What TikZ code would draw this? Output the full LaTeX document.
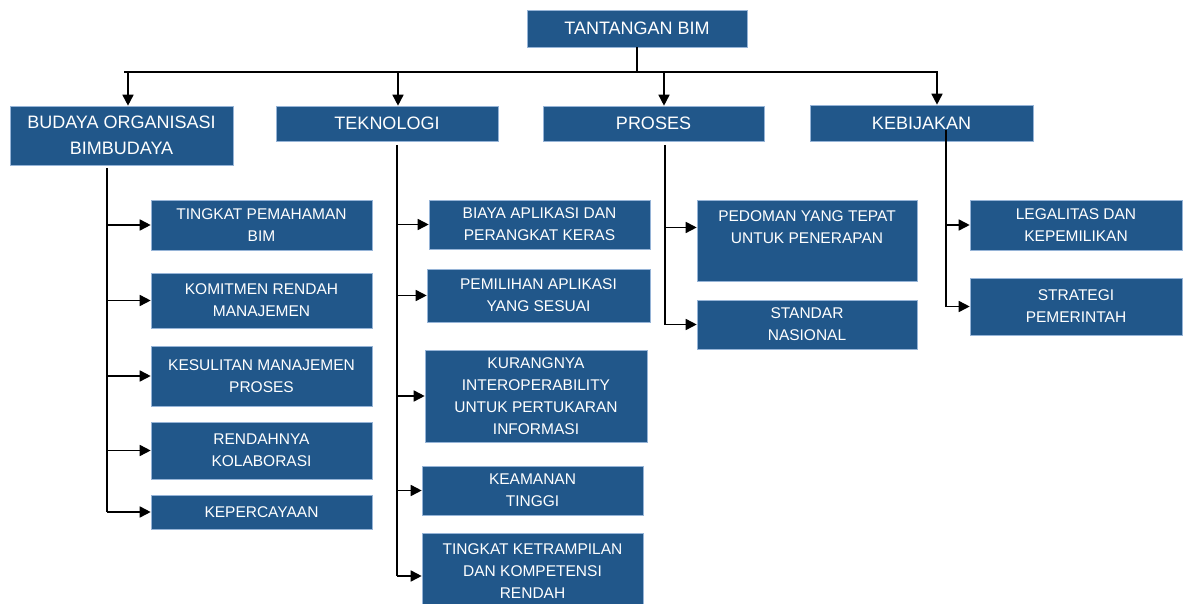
\documentclass[tikz,border=0pt]{standalone}
\usepackage{fontspec}
\setmainfont{Liberation Sans}
\usetikzlibrary{arrows.meta}
\definecolor{boxblue}{RGB}{33,87,138}
\definecolor{boxedge}{RGB}{150,180,215}
\tikzset{
  box/.style={rectangle, fill=boxblue, draw=boxedge, line width=0.6pt, text=white, align=center, inner sep=0pt},
  headbox/.style={box, font=\fontsize{18}{26}\selectfont},
  subbox/.style={box, font=\fontsize{15.5}{22}\selectfont},
  conn/.style={line width=1.6pt, black},
  arr/.style={conn, -{Triangle[length=11pt,width=11pt]}}
}
\begin{document}
\begin{tikzpicture}[x=1pt,y=-1pt]
\useasboundingbox (0,0) rectangle (1183,604);
% top
\node[headbox, minimum width=220pt, minimum height=37pt] (tb) at (637,28.5) {TANTANGAN BIM};
% categories
\node[headbox, minimum width=223pt, minimum height=59pt] (bud) at (121.5,135.5) {BUDAYA ORGANISASI\\BIMBUDAYA};
\node[headbox, minimum width=222pt, minimum height=35pt] (tek) at (387,123.5) {TEKNOLOGI};
\node[headbox, minimum width=221pt, minimum height=35pt] (pro) at (653.5,123.5) {PROSES};
\node[headbox, minimum width=223pt, minimum height=36pt] (keb) at (921.5,123) {KEBIJAKAN};
% column 1
\node[subbox, minimum width=221pt, minimum height=50pt] (a1) at (261.5,225) {TINGKAT PEMAHAMAN\\BIM};
\node[subbox, minimum width=221pt, minimum height=55pt] (a2) at (261.5,300.5) {KOMITMEN RENDAH\\MANAJEMEN};
\node[subbox, minimum width=221pt, minimum height=60pt] (a3) at (261.5,376) {KESULITAN MANAJEMEN\\PROSES};
\node[subbox, minimum width=221pt, minimum height=57pt] (a4) at (261.5,450.5) {RENDAHNYA\\KOLABORASI};
\node[subbox, minimum width=221pt, minimum height=34pt] (a5) at (261.5,512) {KEPERCAYAAN};
% column 2
\node[subbox, minimum width=221pt, minimum height=49pt] (b1) at (539.5,224.5) {BIAYA APLIKASI DAN\\PERANGKAT KERAS};
\node[subbox, minimum width=223pt, minimum height=53pt] (b2) at (538.5,295.5) {PEMILIHAN APLIKASI\\YANG SESUAI};
\node[subbox, minimum width=222pt, minimum height=92pt] (b3) at (536,396) {KURANGNYA\\INTEROPERABILITY\\UNTUK PERTUKARAN\\INFORMASI};
\node[subbox, minimum width=221pt, minimum height=49pt] (b4) at (532.5,490.5) {KEAMANAN\\TINGGI};
\node[subbox, minimum width=221pt, minimum height=76pt] (b5) at (532.5,571) {TINGKAT KETRAMPILAN\\DAN KOMPETENSI\\RENDAH};
% column 3
\node[subbox, minimum width=220pt, minimum height=81pt] (c1) at (807,240.5) {};
\node[subbox, anchor=north, fill=none, draw=none] (c1t) at ([yshift=-11pt]c1.north) {PEDOMAN YANG TEPAT\\UNTUK PENERAPAN};
\node[subbox, minimum width=220pt, minimum height=49pt] (c2) at (807,324.5) {STANDAR\\NASIONAL};
% column 4
\node[subbox, minimum width=212pt, minimum height=50pt] (d1) at (1076,225) {LEGALITAS DAN\\KEPEMILIKAN};
\node[subbox, minimum width=212pt, minimum height=57pt] (d2) at (1076,306.5) {STRATEGI\\PEMERINTAH};
% top connectors
\coordinate (hub) at (637,72);
\coordinate (hl) at (124,72);
\coordinate (hr) at (938,72);
\coordinate (j1) at (128,72);
\coordinate (j2) at (398,72);
\coordinate (j3) at (664,72);
\coordinate (j4) at (937,72);
\draw[conn] (tb.south) -- (hub);
\draw[conn] (hl) -- (hr);
\draw[arr] (j1) -- (j1 |- bud.north);
\draw[arr] (j2) -- (j2 |- tek.north);
\draw[arr] (j3) -- (j3 |- pro.north);
\draw[arr] (j4) -- (j4 |- keb.north);
% trunks
\coordinate (t1) at (107,168);
\coordinate (t2) at (397,145);
\coordinate (t3) at (665,145);
\coordinate (t4) at (946,130);
\draw[conn] (t1) -- (t1 |- a5.west);
\draw[conn] (t2) -- ([yshift=-5pt]t2 |- b5.west);
\draw[conn] (t3) -- (t3 |- c2.west);
\draw[conn] (t4) -- (t4 |- d2.west);
\foreach \n in {a1,a2,a3,a4,a5} {\draw[arr] (t1 |- \n.west) -- (\n.west);}
\foreach \n in {b1,b2,b3,b4} {\draw[arr] (t2 |- \n.west) -- (\n.west);}
\draw[arr] ([yshift=-5pt]t2 |- b5.west) -- ([yshift=-5pt]b5.west);
\draw[arr] (t3 |- c1t.west) -- (c1t.west -| c1.west);
\draw[arr] (t3 |- c2.west) -- (c2.west);
\foreach \n in {d1,d2} {\draw[arr] (t4 |- \n.west) -- (\n.west);}
\end{tikzpicture}
\end{document}
